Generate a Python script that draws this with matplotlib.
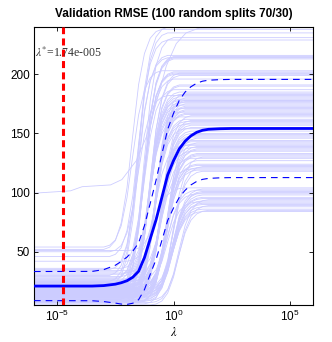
import numpy as np
import matplotlib.pyplot as plt

plt.rcParams['font.family'] = ['Liberation Sans', 'DejaVu Sans']

# ------------------------------------------------------------
# Data
# ------------------------------------------------------------
lam_star = 1.74e-5

# sweep grid of log10(lambda) for the individual splits
grid_exp = np.arange(-6, 6.001, 0.25)

# one row per split: final plateau (large lambda), start plateau (small lambda),
# log10 lambda where the rise is half way
split_high = [240, 238, 235, 231, 229, 216, 215, 214, 214, 213,
              203, 202, 201, 201, 200, 199, 196, 191, 190, 187,
              185, 184, 183, 182, 181, 180, 179, 178, 178, 177,
              176, 175, 174, 173, 172, 171, 170, 169, 168, 167,
              166, 165, 164, 162, 161, 160, 159, 158, 157, 155,
              154, 152, 150, 149, 148, 147, 146, 144, 143, 142,
              141, 140, 139, 138, 137, 136, 135, 133, 132, 131,
              130, 129, 127, 124, 123, 122, 121, 120, 119, 118,
              104, 103, 102, 101, 100, 99, 98, 96, 95, 94,
              93, 92, 91, 90, 89, 88, 86, 85, 84]
split_low = [30, 52, 25, 18, 46, 22, 14, 35, 20, 12,
             54, 17, 27, 10, 24, 16, 33, 19, 13, 28,
             21, 9, 15, 50, 18, 11, 23, 17, 31, 14,
             20, 8, 26, 16, 12, 22, 19, 10, 29, 15,
             21, 13, 36, 18, 9, 24, 14, 20, 11, 17,
             32, 13, 19, 7, 22, 16, 12, 25, 15, 10,
             18, 42, 14, 21, 8, 17, 27, 12, 19, 15,
             6, 23, 11, 16, 20, 9, 13, 34, 18, 14,
             51, 12, 20, 8, 16, 26, 11, 14, 19, 7,
             13, 22, 10, 17, 5, 12, 15, 9, 18]
split_mid = [-1.5, -1.75, -1.5, -1.25, -1.5, -1.5, -1.25, -1.5, -1.25, -1.25,
             -1.75, -1.25, -1.25, -1.0, -1.25, -1.0, -1.25, -1.0, -1.0, -1.25,
             -1.0, -0.75, -1.0, -1.5, -1.0, -0.75, -1.0, -0.75, -1.0, -0.75,
             -1.0, -0.75, -1.0, -0.75, -0.75, -1.0, -0.75, -0.75, -1.0, -0.75,
             -0.75, -0.5, -1.0, -0.75, -0.5, -0.75, -0.5, -0.75, -0.5, -0.5,
             -0.75, -0.5, -0.5, -0.25, -0.5, -0.5, -0.25, -0.5, -0.5, -0.25,
             -0.5, -0.75, -0.25, -0.5, -0.25, -0.25, -0.5, -0.25, -0.25, -0.25,
             0.0, -0.5, -0.25, -0.25, -0.25, 0.0, -0.25, -0.5, -0.25, 0.0,
             -0.75, 0.0, -0.25, 0.0, 0.0, -0.25, 0.0, 0.0, 0.0, 0.25,
             0.0, -0.25, 0.0, 0.0, 0.25, 0.0, 0.0, 0.25, 0.0]
# shape of one rise (fraction of the way), steps of 0.25 decade around the midpoint
rise = [0.0, 0.01, 0.04, 0.12, 0.28, 0.52, 0.75, 0.89, 0.96, 0.99, 1.0]

# the odd split that starts near 100
odd_exp = [-6.0, -4.43, -3.93, -2.71, -2.22, -1.6, -1.17, -0.74, -0.31, 0.12, 0.54, 1.1, 6.0]
odd_val = [99.5, 101.5, 105, 106.5, 111, 127, 147, 176, 207, 226, 235, 239, 240]

# mean and std over the splits
stat_exp = [-6, -3.5, -3, -2.5, -2.25, -2, -1.75, -1.5, -1.25, -1, -0.75, -0.5,
            -0.25, 0, 0.25, 0.5, 0.75, 1, 1.25, 1.5, 2, 2.5, 6]
rmse_mean = [21, 21, 21.4, 22.6, 23.8, 25.5, 28.5, 33.5, 45, 61, 77, 96,
             115, 127, 137, 143.5, 148, 151, 152.7, 153.5, 154, 154.2, 154.2]
rmse_std = [12.3, 12.4, 13.5, 16, 18, 20, 22, 24, 27, 30, 33.5, 36.5,
            38.5, 40, 41, 41.5, 41.5, 41.5, 41.5, 41.5, 41.5, 41.5, 41.5]

# ------------------------------------------------------------
# Build the split curves
# ------------------------------------------------------------
rise = np.array(rise)
half = len(rise) // 2
k = np.arange(len(grid_exp))
curves = []
for hi, lo, mid in zip(split_high, split_low, split_mid):
    ci = int(round((mid - grid_exp[0]) / 0.25))
    idx = np.clip(k - ci + half, 0, len(rise) - 1)
    curves.append(lo + (hi - lo) * rise[idx])

lam = 10.0 ** grid_exp
lam_stat = 10.0 ** np.array(stat_exp)
mean = np.array(rmse_mean)
std = np.array(rmse_std)

# ------------------------------------------------------------
# Plot
# ------------------------------------------------------------
fig = plt.figure(figsize=(3.32, 3.42), dpi=100)
ax = fig.add_axes([0.1024, 0.1082, 0.8404, 0.8129])

thin = (0.8, 0.8, 1.0)
for c in curves:
    ax.plot(lam, c, color=thin, lw=0.6, zorder=1)
ax.plot(10.0 ** np.array(odd_exp), odd_val, color=thin, lw=0.6, zorder=1)

ax.plot(lam_stat, mean, color='blue', lw=2.0, zorder=3)
ax.plot(lam_stat, mean + std, color='blue', lw=0.8, dashes=(6, 4.5), zorder=3)
ax.plot(lam_stat, mean - std, color='blue', lw=0.8, dashes=(6, 4.5), zorder=3)

ax.axvline(lam_star, color='red', lw=2.2, dashes=(2.3, 1.4), zorder=4)

ax.set_xscale('log')
all_y = np.concatenate([np.ravel(curves), odd_val])
ax.set_xlim(lam[0], lam[-1])
ax.set_ylim(all_y.min(), all_y.max())
ax.set_xticks([1e-5, 1e0, 1e5])
ax.xaxis.set_minor_locator(plt.NullLocator())
ax.set_yticks([50, 100, 150, 200])
ax.tick_params(direction='in', top=True, right=True, length=3, width=0.6,
               labelsize=8.5, pad=3)
for s in ax.spines.values():
    s.set_linewidth(0.8)

ax.text(1.1e-6, 218, r'$\lambda^{*}$=1.74e-005', fontsize=8.5,
        family='Liberation Serif', math_fontfamily='stix', va='center',
        ha='left', color='#333333', zorder=5)

ax.set_xlabel(r'$\lambda$', fontsize=9, math_fontfamily='stix', labelpad=1)
ax.set_title('Validation RMSE (100 random splits 70/30)', fontsize=8.5,
             fontweight='bold', pad=7)

fig.savefig('out.png', dpi=100)
